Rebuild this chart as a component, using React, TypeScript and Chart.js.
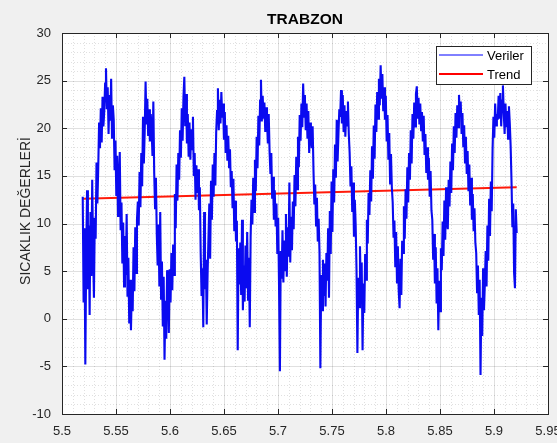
import React, { useEffect, useRef } from "react";
import { Chart, registerables } from "chart.js";

Chart.register(...registerables);

const chartTitle = "TRABZON";
const yAxisLabel = "SICAKLIK DEĞERLERİ";
const seriesNames = ["Veriler", "Trend"];

const xStart = 5.5192;
const xEnd = 5.921;

const temps: number[] = [
  12.8, 1.7, 9.5, -4.8,
  6.2, 13.5, 3.1, 9.8, 0.4, 11.2, 4.5, 14.6, 7.3, 2.2, 10.6,
  8.4, 16.4, 12.1,
  15.8, 20.6, 17.9, 22.1, 18.5, 23.3, 20.2,
  21.8, 24.7, 26.3,
  22.0, 24.3, 19.4, 23.5, 20.8, 25.2, 19.0, 22.4,
  20.9, 15.6, 18.7, 12.9, 17.1, 10.8, 14.2, 17.5,
  9.3, 12.2, 5.8, 10.1, 3.4, 8.7, 4.6, 11.0,
  2.3, 6.4, -0.5, 4.1, -1.2, 3.2, 0.8,
  7.5, 2.9, 9.6, 4.8, 10.4, 12.3,
  9.8, 15.4, 11.7, 17.4, 13.9, 21.2, 16.3, 19.8,
  24.9, 20.4, 23.1, 19.2, 22.0, 18.6, 21.5, 19.9,
  17.1, 22.8, 15.3, 11.6, 14.8, 8.9, 5.6, 9.9, 3.4,
  11.2, 2.1, 6.0, -0.8, 4.4, -4.3, 1.9, -2.1, 5.1, 3.6, -1.5,
  5.2, 1.7, 6.9, 3.0, 7.8, 4.6,
  13.1, 9.5, 16.2, 12.4, 17.4, 14.6,
  19.8, 16.9, 22.1, 18.7, 23.3, 25.4,
  20.2, 23.6, 18.4, 21.5, 17.0, 20.6, 16.7, 19.9, 17.8, 21.2,
  15.0, 17.4, 12.5, 16.1, 13.2, 15.7, 11.4, 13.8,
  6.9, 2.4, 5.3, -0.9, 11.2, 3.1, 6.2, -0.6, 4.7,
  8.4, 12.1, 6.3, 14.5, 10.4, 16.2, 12.8, 17.4, 14.0, 19.6,
  21.8, 24.2, 19.8, 23.0, 20.5, 23.8, 21.1,
  22.6, 18.8, 21.7, 17.4, 20.3, 16.6, 19.2, 15.9,
  17.8, 13.8, 15.5, 11.6, 14.7, 9.2, 12.4, 8.1,
  10.3, -3.3, 7.4, 3.6,
  8.0, 2.5, 10.4, 0.9, 5.6, 1.8, 7.7, 3.2, 9.1, 2.0, 6.4, -0.9,
  8.6, 12.5, 9.9, 14.8, 11.2, 16.7, 13.4, 19.1, 15.8, 21.3, 18.2,
  22.9, 25.1, 20.7, 23.4,
  21.0, 22.7, 19.6, 22.2, 20.9, 18.4, 21.5, 17.6,
  15.2, 17.4, 12.6, 14.9, 10.4, 13.5, 9.7, 12.1,
  6.8, 10.6, 3.4, -5.5, 7.1, 4.2, 9.3,
  3.8, 8.2, 5.1, 11.0, 4.4, 9.6, 6.5, 14.3, 5.9, 10.7, 7.2,
  12.3, 9.4, 15.1, 11.8, 17.0, 13.6, 19.1, 15.9,
  21.4, 18.7, 22.6, 20.1, 24.7, 21.2, 23.5, 19.8, 22.6,
  18.9, 21.8, 17.4, 20.6, 19.0, 17.9, 20.2,
  15.6, 12.0, 14.1, 9.8, 12.7, 8.1, 10.5, 6.9,
  -5.2, 4.6, 0.9, 6.2, 2.4, 5.8, 1.3, 6.9,
  4.0, 9.5, 2.2, 11.3, 6.8, 14.4, 9.1,
  15.7, 12.2, 18.3, 14.8, 20.9, 16.5, 19.4, 22.0,
  21.2, 24.0, 20.5,
  23.5, 19.6, 22.4, 19.1, 21.8, 20.3, 22.8, 19.4,
  17.4, 13.9, 16.0, 11.2, 14.3, 8.6, 12.5, 9.8,
  5.1, -3.6, 4.3, 1.2, 7.6, 2.8, 5.9, -3.3, 3.7, 0.6, 6.8, 4.1,
  10.4, 7.9, 13.2, 10.9, 15.6, 12.3, 18.1, 14.7, 20.3, 16.8, 22.5,
  19.6, 23.8, 21.0, 25.2, 22.4, 26.6, 23.1, 25.7, 21.8, 24.3,
  20.9, 23.4, 18.6, 21.4, 16.7, 19.5, 14.2, 17.3, 13.8,
  12.2, 8.5, 10.3, 5.4, 9.1, 3.8, 7.6, 2.9, 1.1, 6.3, 2.5, 8.2,
  6.9, 11.8, 8.4, 13.6, 10.5, 15.9, 12.2, 17.4, 14.6, 19.8, 16.3,
  21.5, 18.9, 22.7, 20.2, 23.6, 24.4, 21.0, 23.2, 20.4, 22.6, 19.8, 21.7,
  18.6, 21.3, 17.2, 19.4, 15.3, 18.0, 14.6, 16.9, 12.8, 15.5, 11.4,
  10.4, 6.2, 8.9, 3.7, 7.5, 1.6, 5.3, -1.2, 4.0, 0.8,
  7.4, 5.1, 10.2, 6.6, 12.4, 8.3, 13.8, 10.1, 9.4, 14.6,
  11.8, 16.5, 13.2, 18.4, 15.6, 20.2, 17.4, 21.6, 19.0, 22.4, 20.1, 23.5,
  21.2, 22.8, 19.4, 21.6, 18.0, 20.3, 16.4, 19.1, 15.2, 17.6, 13.4, 16.2, 11.9, 14.8, 10.4, 13.1, 9.2, 11.6, 8.0,
  6.9, 2.8, 5.6, 0.4, 4.1, -5.9, 2.2, -1.8, 5.3, 0.9, 3.6, 7.1,
  3.4, 9.8, 6.1, 12.6, 8.7, 14.4, 11.3,
  17.8, 21.2, 19.0, 22.6, 20.3, 21.5, 20.9, 23.4,
  21.0, 23.7, 20.2, 22.9, 24.5, 21.6, 19.4, 22.6, 20.1, 21.8, 18.9, 22.3, 20.5, 18.1,
  14.4, 9.6, 12.1, 4.8, 3.2, 11.5, 9.0,
];

const trendX = [5.5192, 5.921];
const trendY = [12.6, 13.8];

const xMin = 5.5;
const xMax = 5.95;
const xStep = 0.05;
const xMinorStep = 0.01;
const yMin = -10;
const yMax = 30;
const yStep = 5;
const yMinorStep = 1;

const FONT = '"Liberation Sans", Arial, Helvetica, sans-serif';
const AXIS_COLOR = "#262626";

const bgPlugin = {
  id: "bgPlugin",
  beforeDraw(chart: any) {
    const { ctx, chartArea, scales } = chart;
    const { left, right, top, bottom } = chartArea;
    ctx.save();
    ctx.fillStyle = "#f0f0f0";
    ctx.fillRect(0, 0, chart.width, chart.height);
    ctx.fillStyle = "#ffffff";
    ctx.fillRect(left, top, right - left, bottom - top);
    ctx.strokeStyle = "rgba(0,0,0,0.12)";
    ctx.lineWidth = 1;
    ctx.setLineDash([1, 2]);
    const nx = Math.round((xMax - xMin) / xMinorStep);
    for (let k = 1; k < nx; k++) {
      if (k % 5 === 0) continue;
      const px = Math.round(scales.x.getPixelForValue(xMin + k * xMinorStep)) + 0.5;
      ctx.beginPath();
      ctx.moveTo(px, top);
      ctx.lineTo(px, bottom);
      ctx.stroke();
    }
    const ny = Math.round((yMax - yMin) / yMinorStep);
    for (let k = 1; k < ny; k++) {
      if (k % 5 === 0) continue;
      const py = Math.round(scales.y.getPixelForValue(yMin + k * yMinorStep)) + 0.5;
      ctx.beginPath();
      ctx.moveTo(left, py);
      ctx.lineTo(right, py);
      ctx.stroke();
    }
    ctx.setLineDash([]);
    ctx.strokeStyle = "rgba(0,0,0,0.12)";
    const mx = Math.round((xMax - xMin) / xStep);
    for (let k = 1; k < mx; k++) {
      const px = Math.round(scales.x.getPixelForValue(xMin + k * xStep)) + 0.5;
      ctx.beginPath();
      ctx.moveTo(px, top);
      ctx.lineTo(px, bottom);
      ctx.stroke();
    }
    const my = Math.round((yMax - yMin) / yStep);
    for (let k = 1; k < my; k++) {
      const py = Math.round(scales.y.getPixelForValue(yMin + k * yStep)) + 0.5;
      ctx.beginPath();
      ctx.moveTo(left, py);
      ctx.lineTo(right, py);
      ctx.stroke();
    }
    ctx.restore();
  },
};

const frontPlugin = {
  id: "frontPlugin",
  afterDatasetsDraw(chart: any) {
    const { ctx, chartArea, scales } = chart;
    const { left, right, top, bottom } = chartArea;
    ctx.save();
    ctx.strokeStyle = AXIS_COLOR;
    ctx.lineWidth = 1;
    ctx.setLineDash([]);
    ctx.strokeRect(Math.round(left) + 0.5, Math.round(top) + 0.5, Math.round(right - left), Math.round(bottom - top));
    const tl = 5;
    const mx = Math.round((xMax - xMin) / xStep);
    for (let k = 1; k < mx; k++) {
      const px = Math.round(scales.x.getPixelForValue(xMin + k * xStep)) + 0.5;
      ctx.beginPath();
      ctx.moveTo(px, bottom);
      ctx.lineTo(px, bottom - tl);
      ctx.moveTo(px, top);
      ctx.lineTo(px, top + tl);
      ctx.stroke();
    }
    const my = Math.round((yMax - yMin) / yStep);
    for (let k = 1; k < my; k++) {
      const py = Math.round(scales.y.getPixelForValue(yMin + k * yStep)) + 0.5;
      ctx.beginPath();
      ctx.moveTo(left, py);
      ctx.lineTo(left + tl, py);
      ctx.moveTo(right, py);
      ctx.lineTo(right - tl, py);
      ctx.stroke();
    }

    ctx.save();
    ctx.translate(26, 211);
    ctx.rotate(-Math.PI / 2);
    ctx.fillStyle = AXIS_COLOR;
    ctx.font = `14px ${FONT}`;
    ctx.textAlign = "center";
    ctx.textBaseline = "middle";
    ctx.fillText(yAxisLabel, 0, 0);
    ctx.restore();

    const lx = Math.round(right) - 112;
    const ly = Math.round(top) + 13;
    const lw = 95;
    const lh = 38;
    ctx.fillStyle = "#ffffff";
    ctx.fillRect(lx, ly, lw, lh);
    ctx.strokeStyle = AXIS_COLOR;
    ctx.lineWidth = 1;
    ctx.strokeRect(lx + 0.5, ly + 0.5, lw, lh);
    const colors = ["#0000ff", "#ff0000"];
    const widths = [1, 2];
    ctx.font = `13px ${FONT}`;
    ctx.textBaseline = "middle";
    ctx.textAlign = "left";
    for (let i = 0; i < seriesNames.length; i++) {
      const yy = ly + 9 + i * 19;
      ctx.strokeStyle = colors[i];
      ctx.lineWidth = widths[i];
      ctx.beginPath();
      ctx.moveTo(lx + 3, yy);
      ctx.lineTo(lx + 47, yy);
      ctx.stroke();
      ctx.fillStyle = "#000000";
      ctx.fillText(seriesNames[i], lx + 51, yy + 1.5);
    }
    ctx.restore();
  },
};

export default function App() {
  const canvasRef = useRef<HTMLCanvasElement | null>(null);

  useEffect(() => {
    document.body.style.margin = "0";
    const canvas = canvasRef.current;
    if (!canvas) return;
    const step = (xEnd - xStart) / (temps.length - 1);
    const dataPts = temps.map((v, i) => ({ x: xStart + i * step, y: v }));
    const trendPts = trendX.map((x, i) => ({ x, y: trendY[i] }));

    const chart = new Chart(canvas, {
      type: "line",
      data: {
        datasets: [
          {
            label: seriesNames[0],
            data: dataPts,
            borderColor: "#0a0af0",
            borderWidth: 2.1,
            borderJoinStyle: "miter",
            pointRadius: 0,
            tension: 0,
            fill: false,
          },
          {
            label: seriesNames[1],
            data: trendPts,
            borderColor: "#ff1a0a",
            borderWidth: 2,
            pointRadius: 0,
            tension: 0,
            fill: false,
          },
        ],
      },
      options: {
        responsive: false,
        animation: false,
        events: [],
        layout: { padding: { top: 0, right: 9, left: 0, bottom: 0 } },
        plugins: {
          legend: { display: false },
          tooltip: { enabled: false },
          title: {
            display: true,
            text: chartTitle,
            fullSize: false,
            color: "#000000",
            font: { family: FONT, size: 15.5, weight: "bold", lineHeight: 1 },
            padding: { top: 12, bottom: 5.5 },
          },
        },
        scales: {
          x: {
            type: "linear",
            min: xMin,
            max: xMax,
            grid: { display: false, drawTicks: false },
            border: { display: false },
            ticks: {
              stepSize: xStep,
              autoSkip: false,
              maxRotation: 0,
              padding: 10,
              color: AXIS_COLOR,
              font: { family: FONT, size: 13 },
              callback: (v: any) => String(parseFloat(Number(v).toFixed(2))),
            },
            afterFit: (s: any) => {
              s.height = 29;
              s.paddingLeft = 0;
              s.paddingRight = 0;
            },
          },
          y: {
            min: yMin,
            max: yMax,
            grid: { display: false, drawTicks: false },
            border: { display: false },
            ticks: {
              stepSize: yStep,
              padding: 11,
              color: AXIS_COLOR,
              font: { family: FONT, size: 13 },
            },
            afterFit: (s: any) => {
              s.width = 62;
              s.paddingTop = 0;
              s.paddingBottom = 0;
            },
          },
        },
      },
      plugins: [bgPlugin, frontPlugin],
    });
    return () => chart.destroy();
  }, []);

  return (
    <div style={{ position: "fixed", left: 0, top: 0, width: 557, height: 443, background: "#f0f0f0" }}>
      <canvas ref={canvasRef} width={557} height={443} style={{ display: "block", width: 557, height: 443 }} />
    </div>
  );
}
